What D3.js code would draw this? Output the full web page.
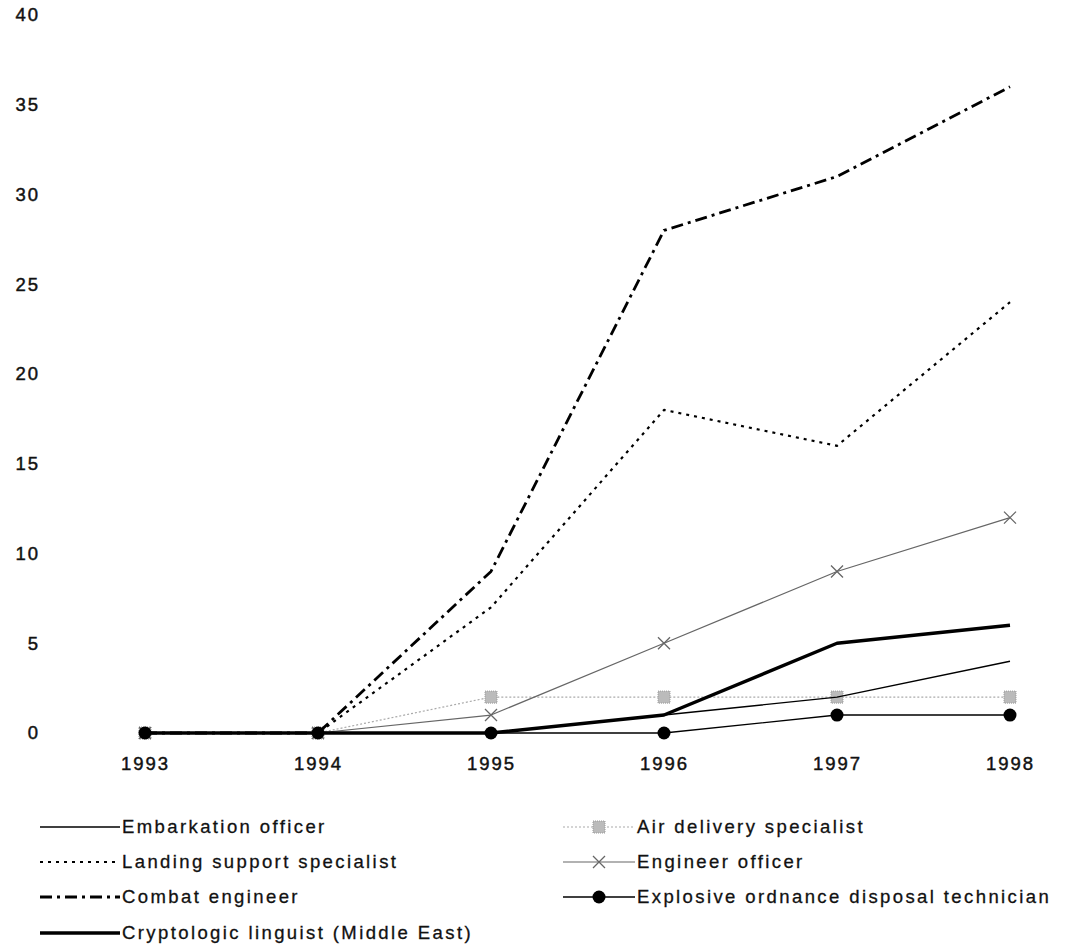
<!DOCTYPE html>
<html><head><meta charset="utf-8">
<script src="https://cdn.jsdelivr.net/npm/d3@7"></script>
<style>
body{margin:0;background:#fff;}
text{font-family:"Liberation Sans",Arial,sans-serif;}
</style></head>
<body><svg id="c" width="1069" height="951"></svg>
<script>
const years = ["1993","1994","1995","1996","1997","1998"];
const yTicks = [0,5,10,15,20,25,30,35,40];
const embarkation = [0,0,0,1,2,4];
const airDelivery = [0,0,2,2,2,2];
const landingSupport = [0,0,7,18,16,24];
const engineerOfficer = [0,0,1,5,9,12];
const combatEngineer = [0,0,9,28,31,36];
const eodTech = [0,0,0,0,1,1];
const cryptologic = [0,0,0,1,5,6];

const series = [
  {name:"Embarkation officer", values:embarkation, color:"#000", width:1.4, dash:null, marker:null, col:0,row:0},
  {name:"Landing support specialist", values:landingSupport, color:"#000", width:2.2, dash:"3,5", marker:null, col:0,row:1},
  {name:"Combat engineer", values:combatEngineer, color:"#000", width:2.8, dash:"12,5,3,5", marker:null, col:0,row:2},
  {name:"Cryptologic linguist (Middle East)", values:cryptologic, color:"#000", width:3.4, dash:null, marker:null, col:0,row:3},
  {name:"Air delivery specialist", values:airDelivery, color:"#aaa", width:1.2, dash:"2,2", marker:"square", col:1,row:0},
  {name:"Engineer officer", values:engineerOfficer, color:"#666", width:1.2, dash:null, marker:"x", col:1,row:1},
  {name:"Explosive ordnance disposal technician", values:eodTech, color:"#000", width:1.4, dash:null, marker:"circle", col:1,row:2}
];

const svg = d3.select("#c");
const x = d3.scalePoint().domain(years).range([145,1010]);
const y = d3.scaleLinear().domain([0,40]).range([733,15]);

function styleTicks(sel){
  sel.selectAll("text").attr("font-size",18.5).attr("letter-spacing","2px")
    .attr("fill","#111").attr("stroke","#111").attr("stroke-width",0.45)
    .attr("font-family","Liberation Sans, Arial, sans-serif");
}

const yAxis = svg.append("g").attr("transform","translate(40,0)")
  .call(d3.axisLeft(y).tickValues(yTicks).tickSize(0).tickPadding(0));
yAxis.select(".domain").remove();
styleTicks(yAxis);

const xAxis = svg.append("g").attr("transform","translate(0,757)")
  .call(d3.axisBottom(x).tickSize(0).tickPadding(0));
xAxis.select(".domain").remove();
styleTicks(xAxis);

const line = d3.line().x((d,i)=>x(years[i])).y(d=>y(d));

function drawMarker(g, type, cx, cy, color){
  if(type==="square"){
    g.append("rect").attr("x",cx-6).attr("y",cy-6).attr("width",12).attr("height",12)
      .attr("fill","#bbb").attr("stroke","#999").attr("stroke-width",1).attr("stroke-dasharray","1,1");
  } else if(type==="x"){
    g.append("path").attr("d",`M${cx-6},${cy-6}L${cx+6},${cy+6}M${cx-6},${cy+6}L${cx+6},${cy-6}`)
      .attr("stroke",color).attr("stroke-width",1.3).attr("fill","none");
  } else if(type==="circle"){
    g.append("circle").attr("cx",cx).attr("cy",cy).attr("r",6.5).attr("fill","#000");
  }
}

const order = [4,5,0,1,2,3,6];
order.forEach(i=>{
  const s = series[i];
  const g = svg.append("g");
  g.append("path").datum(s.values).attr("d",line).attr("fill","none")
    .attr("stroke",s.color).attr("stroke-width",s.width)
    .attr("stroke-dasharray",s.dash).attr("stroke-linejoin","round");
  if(s.marker){
    s.values.forEach((v,j)=>drawMarker(g,s.marker,x(years[j]),y(v),s.color));
  }
});

// legend
const legX = [40,563], legW=[80,72], rowY=[827,862,897,933];
series.forEach(s=>{
  const lx = legX[s.col], ly = rowY[s.row], w = legW[s.col];
  const g = svg.append("g");
  g.append("line").attr("x1",lx).attr("x2",lx+w).attr("y1",ly).attr("y2",ly)
    .attr("stroke",s.color).attr("stroke-width",s.width).attr("stroke-dasharray",s.dash);
  if(s.marker) drawMarker(g,s.marker,lx+w/2,ly,s.color);
  g.append("text").attr("x",lx+w+2).attr("y",ly+6).text(s.name)
    .attr("font-size",18.5).attr("letter-spacing","2.4px").attr("fill","#111")
    .attr("stroke","#111").attr("stroke-width",0.3);
});
</script></body></html>
